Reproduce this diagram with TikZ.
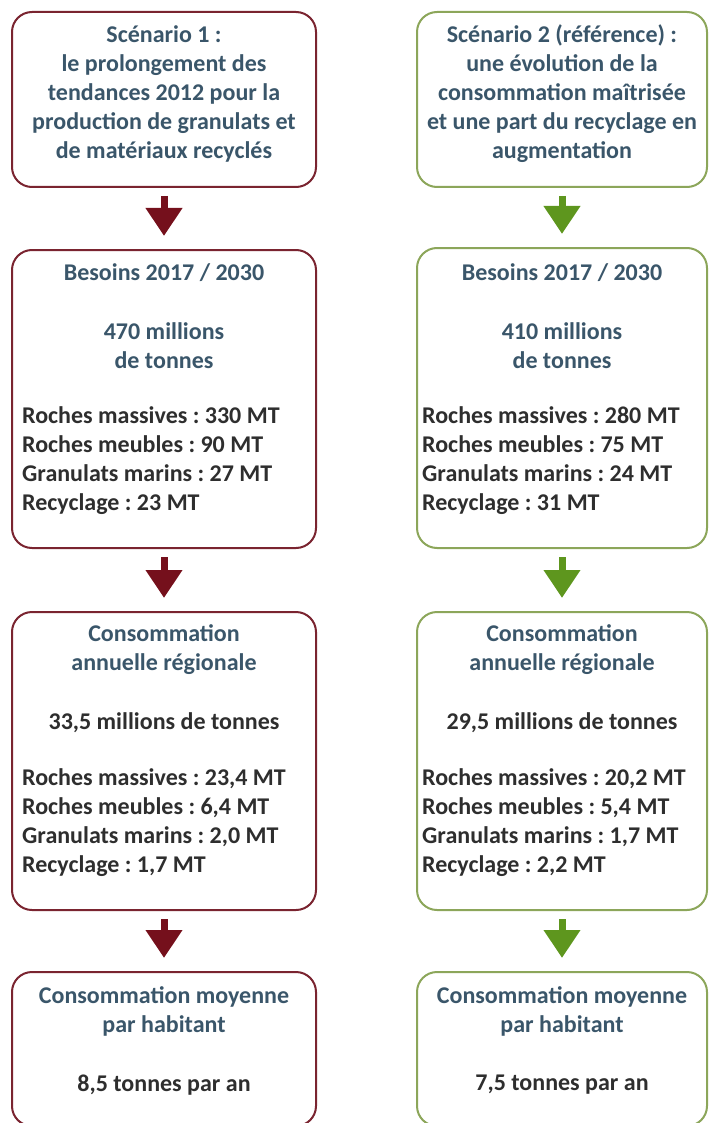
\documentclass[tikz,border=0pt]{standalone}
\usepackage{fontspec}
\setmainfont{Carlito}
\usetikzlibrary{arrows.meta}
\definecolor{redline}{HTML}{7A2430}
\definecolor{redarrow}{HTML}{75101C}
\definecolor{greenline}{HTML}{8CA65A}
\definecolor{greenarrow}{HTML}{5E961E}
\definecolor{headtxt}{HTML}{3A566A}
\definecolor{bodytxt}{HTML}{2E2E2E}
\frenchspacing
\tikzset{
  box/.style={draw, line width=2pt, rounded corners=20pt, fill=white, inner sep=0pt},
  redbox/.style={box, draw=redline},
  greenbox/.style={box, draw=greenline},
  txt/.style={font=\fontsize{24}{29}\selectfont\bfseries, inner sep=0pt, text=headtxt, align=center},
  ltxt/.style={font=\fontsize{24}{29}\selectfont\bfseries, inner sep=0pt, text=bodytxt, align=left, anchor=west},
  flow/.style={line width=7pt, -{Triangle[width=35pt,length=28pt]}, shorten <=8pt, shorten >=13pt},
  redflow/.style={flow, draw=redarrow, fill=redarrow},
  greenflow/.style={flow, draw=greenarrow, fill=greenarrow},
}
\begin{document}
\begin{tikzpicture}[x=1pt,y=-1pt]
\useasboundingbox (0,0) rectangle (709,1123);
\clip (0,0) rectangle (709,1123);
% left column boxes
\node[redbox, minimum width=304pt, minimum height=175pt] (L1) at (164,99.5) {};
\node[redbox, minimum width=304pt, minimum height=298pt] (L2) at (164,399) {};
\node[redbox, minimum width=304pt, minimum height=298pt] (L3) at (164,761) {};
\node[redbox, minimum width=304pt, minimum height=154pt] (L4) at (164,1049) {};
% right column boxes
\node[greenbox, minimum width=290pt, minimum height=175pt] (R1) at (562,99.5) {};
\node[greenbox, minimum width=290pt, minimum height=300pt] (R2) at (562,398) {};
\node[greenbox, minimum width=290pt, minimum height=298pt] (R3) at (562,761) {};
\node[greenbox, minimum width=290pt, minimum height=154pt] (R4) at (562,1049) {};
% arrows
\draw[redflow] (L1.south) -- (L2.north);
\draw[redflow] (L2.south) -- (L3.north);
\draw[redflow] (L3.south) -- (L4.north);
\draw[greenflow] (R1.south) -- (R2.north);
\draw[greenflow] (R2.south) -- (R3.north);
\draw[greenflow] (R3.south) -- (R4.north);
% left texts
\node[txt] (l1t) at (164,94) {Scénario 1 :\\le prolongement des\\tendances 2012 pour la\\production de granulats et\\de matériaux recyclés};
\node[txt] (l2a) at (164,273) {Besoins 2017 / 2030};
\node[txt] (l2b) at (164,346) {470 millions\\de tonnes};
\node[ltxt] (l2c) at (22,461) {Roches massives : 330 MT\\Roches meubles : 90 MT\\Granulats marins : 27 MT\\Recyclage : 23 MT};
\node[txt] (l3a) at (164,650) {Consommation\\annuelle régionale};
\node[txt, text=bodytxt] (l3b) at (164,723) {33,5 millions de tonnes};
\node[ltxt] (l3c) at (22,823) {Roches massives : 23,4 MT\\Roches meubles : 6,4 MT\\Granulats marins : 2,0 MT\\Recyclage : 1,7 MT};
\node[txt] (l4a) at (164,1011) {Consommation moyenne\\par habitant};
\node[txt, text=bodytxt] (l4b) at (164,1085) {8,5 tonnes par an};
% right texts
\node[txt] (r1t) at (562,94) {Scénario 2 (référence) :\\une évolution de la\\consommation maîtrisée\\et une part du recyclage en\\augmentation};
\node[txt] (r2a) at (562,273) {Besoins 2017 / 2030};
\node[txt] (r2b) at (562,346) {410 millions\\de tonnes};
\node[ltxt] (r2c) at (422,461) {Roches massives : 280 MT\\Roches meubles : 75 MT\\Granulats marins : 24 MT\\Recyclage : 31 MT};
\node[txt] (r3a) at (562,650) {Consommation\\annuelle régionale};
\node[txt, text=bodytxt] (r3b) at (562,723) {29,5 millions de tonnes};
\node[ltxt] (r3c) at (422,823) {Roches massives : 20,2 MT\\Roches meubles : 5,4 MT\\Granulats marins : 1,7 MT\\Recyclage : 2,2 MT};
\node[txt] (r4a) at (562,1011) {Consommation moyenne\\par habitant};
\node[txt, text=bodytxt] (r4b) at (562,1085) {7,5 tonnes par an};
\end{tikzpicture}
\end{document}
